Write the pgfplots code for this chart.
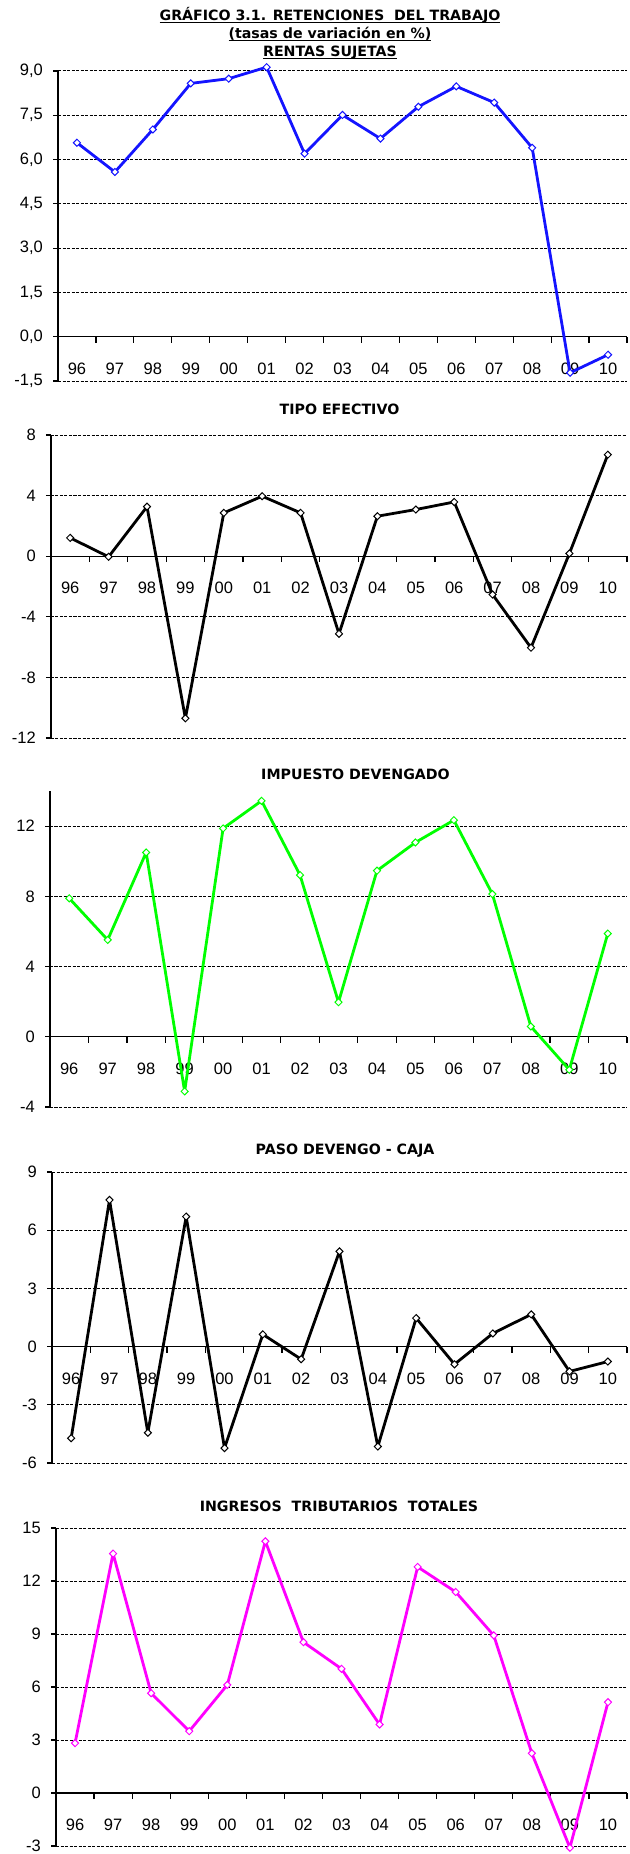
\documentclass[border=0pt]{standalone}
\usepackage{fontspec}
\setmainfont{Liberation Sans}
\newfontfamily\ttl{DejaVu Sans}
\usepackage{pgfplots}
\pgfplotsset{compat=1.18}
\definecolor{cblue}{RGB}{20,20,255}
\definecolor{cgreen}{RGB}{0,255,0}
\definecolor{cmag}{RGB}{255,0,255}
\newcommand\ul[1]{\setbox0\hbox{#1}\leavevmode\rlap{\rule[-2.4pt]{\wd0}{1.3pt}}\box0}
\newcommand\tfont{\ttl\bfseries\fontsize{14.2}{17}\selectfont}
\newcommand\lfont{\fontsize{16.5}{18}\selectfont}
\pgfplotsset{
  panel/.style={
    scale only axis, clip=false,
    axis y line*=left, axis x line*=middle,
    axis line style={black, line width=1.2pt},
    xmin=-0.5, xmax=14.5,
    xtick={0,...,14},
    xticklabels={96,97,98,99,00,01,02,03,04,05,06,07,08,09,10},
    minor xtick={-0.5,0.5,...,14.5},
    major x tick style={draw=none},
    minor tick length=6pt,
    major tick length=5pt,
    tick align=outside,
    tick style={black, line width=1.2pt},
    xticklabel style={font=\lfont, anchor=center, yshift=-27pt, inner sep=0pt},
    yticklabel style={font=\lfont, anchor=east, inner sep=0pt, xshift=-10pt},
    ymajorgrids,
    major grid style={black, line width=1pt, dash pattern=on 3pt off 1.5pt},
  },
  ser/.style={line width=2.8pt, line join=round, color=#1, mark=square*, mark size=2.5pt,
    mark options={rotate=45, fill=white, draw=#1, line width=1pt, solid, line join=miter}},
}
\begin{document}
\begin{tikzpicture}
\path[use as bounding box] (0,0) rectangle (629pt,-1854pt);
\node[anchor=base] at (330pt,-20.5pt) {\tfont\ul{GRÁFICO 3.1. RETENCIONES\ \ DEL TRABAJO}};
\node[anchor=base] at (330pt,-38.5pt) {\tfont\ul{(tasas de variación en \%)}};
\node[anchor=base] at (330pt,-56.5pt) {\tfont\ul{RENTAS SUJETAS}};
\node[anchor=base] at (339.5pt,-414pt) {\tfont TIPO EFECTIVO};
\node[anchor=base] at (355.5pt,-779pt) {\tfont IMPUESTO DEVENGADO};
\node[anchor=base] at (345pt,-1154pt) {\tfont PASO DEVENGO - CAJA};
\node[anchor=base] at (339pt,-1511pt) {\tfont INGRESOS\ \ TRIBUTARIOS\ \ TOTALES};

% Panel 1
\begin{axis}[panel, at={(58pt,-381pt)}, anchor=south west, width=569pt, height=310pt,
  ymin=-1.5, ymax=9, ytick={-1.5,0,1.5,3,4.5,6,7.5,9},
  yticklabels={{-1,5},{0,0},{1,5},{3,0},{4,5},{6,0},{7,5},{9,0}}]
\addplot[ser=cblue] coordinates {(0,6.57)(1,5.58)(2,7.02)(3,8.58)(4,8.74)(5,9.13)(6,6.20)(7,7.51)(8,6.71)(9,7.79)(10,8.48)(11,7.93)(12,6.40)(13,-1.22)(14,-0.61)};
\end{axis}

% Panel 2
\begin{axis}[panel, at={(51pt,-738pt)}, anchor=south west, width=576pt, height=303pt,
  ymin=-12, ymax=8, ytick={-12,-8,-4,0,4,8},
  yticklabels={-12,-8,-4,0,4,8}]
\addplot[ser=black] coordinates {(0,1.21)(1,-0.04)(2,3.27)(3,-10.7)(4,2.86)(5,3.96)(6,2.86)(7,-5.12)(8,2.64)(9,3.08)(10,3.58)(11,-2.53)(12,-6.04)(13,0.18)(14,6.70)};
\end{axis}

% Panel 3
\begin{axis}[panel, at={(50pt,-1107pt)}, anchor=south west, width=577pt, height=316pt,
  ymin=-4, ymax=14, ytick={-4,0,4,8,12},
  yticklabels={-4,0,4,8,12}]
\addplot[ser=cgreen] coordinates {(0,7.89)(1,5.52)(2,10.50)(3,-3.11)(4,11.87)(5,13.44)(6,9.21)(7,1.97)(8,9.46)(9,11.07)(10,12.34)(11,8.13)(12,0.59)(13,-1.88)(14,5.88)};
\end{axis}

% Panel 4
\begin{axis}[panel, at={(52pt,-1463pt)}, anchor=south west, width=575pt, height=291pt,
  ymin=-6, ymax=9, ytick={-6,-3,0,3,6,9},
  yticklabels={-6,-3,0,3,6,9}]
\addplot[ser=black] coordinates {(0,-4.72)(1,7.56)(2,-4.44)(3,6.70)(4,-5.23)(5,0.63)(6,-0.65)(7,4.91)(8,-5.15)(9,1.47)(10,-0.91)(11,0.68)(12,1.66)(13,-1.28)(14,-0.77)};
\end{axis}

% Panel 5
\begin{axis}[panel, at={(56pt,-1846pt)}, anchor=south west, width=571pt, height=318pt,
  ymin=-3, ymax=15, ytick={-3,0,3,6,9,12,15},
  yticklabels={-3,0,3,6,9,12,15}]
\addplot[ser=cmag] coordinates {(0,2.82)(1,13.55)(2,5.65)(3,3.50)(4,6.12)(5,14.25)(6,8.54)(7,7.03)(8,3.88)(9,12.80)(10,11.38)(11,8.92)(12,2.25)(13,-3.1)(14,5.14)};
\end{axis}
\end{tikzpicture}
\end{document}
